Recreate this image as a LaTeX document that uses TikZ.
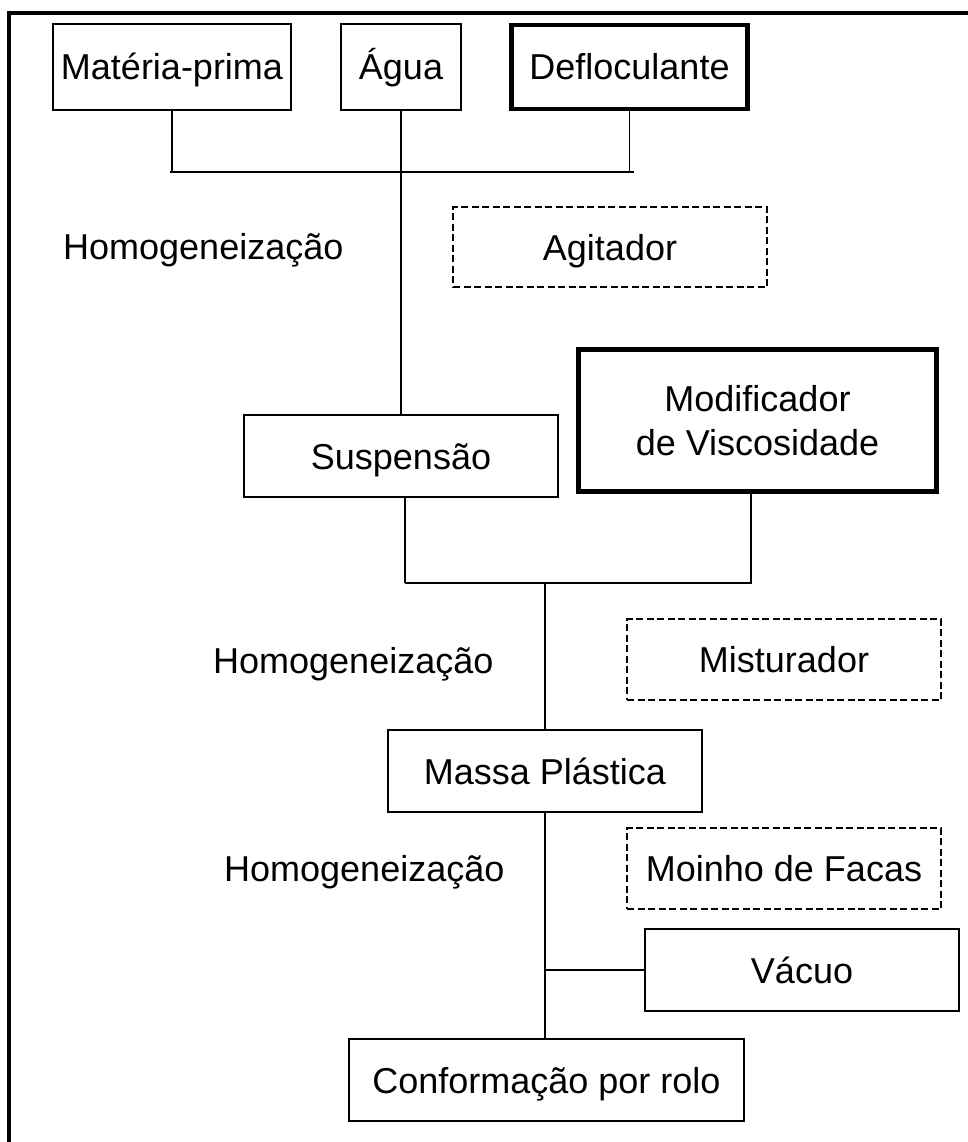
\documentclass[tikz,border=0pt]{standalone}
\usepackage{fontspec}
\setmainfont{Liberation Sans}
\newcommand{\lblfont}{\fontsize{36}{44}\selectfont}
\begin{document}
\begin{tikzpicture}[x=1pt,y=-1pt,
  boxbase/.style={draw, line width=1.6pt, inner sep=0pt, font=\lblfont, align=center},
  box/.style={boxbase, text height=26pt, text depth=0pt},
  thickbox/.style={box, line width=4.5pt},
  dashbox/.style={box, line width=1.6pt, dash pattern=on 7pt off 3.5pt},
  lbl/.style={font=\lblfont, inner sep=0pt, anchor=base west},
  link/.style={line width=1.6pt},
  barline/.style={line width=2.2pt},
]
\useasboundingbox (0,0) rectangle (968,1142);
\clip (0,0) rectangle (968,1142);

% outer frame (left and top edges)
\draw[line width=4pt] (9,1160) |- (980,13);

% raw materials
\node[box, minimum width=238pt, minimum height=86pt] (mp) at (172,67) {Matéria-prima};
\node[box, minimum width=120pt, minimum height=86pt] (ag) at (401,67) {Água};
\node[thickbox, minimum width=236pt, minimum height=84pt] (df) at (629.5,67) {Defloculante};

% first homogenisation
\node[lbl] (h1) at (63,259) {Homogeneização};
\node[dashbox, minimum width=314pt, minimum height=80pt] (agit) at (610,247) {Agitador};

\node[box, minimum width=314pt, minimum height=82pt] (sus) at (401,456) {Suspensão};
\node[boxbase, line width=4.5pt, minimum width=358pt, minimum height=142pt] (mod) at (757.5,420.5) {Modificador\\de Viscosidade};

% second homogenisation
\node[lbl] (h2) at (213,673) {Homogeneização};
\node[dashbox, minimum width=314pt, minimum height=81pt] (mist) at (784,659.5) {Misturador};

\node[box, minimum width=314pt, minimum height=82pt] (massa) at (545,771) {Massa Plástica};

% third homogenisation
\node[lbl] (h3) at (224,881) {Homogeneização};
\node[dashbox, minimum width=314pt, minimum height=81pt] (moinho) at (784,868.5) {Moinho de Facas};

\node[box, minimum width=314pt, minimum height=82pt] (vac) at (802,970) {Vácuo};
\node[box, minimum width=395pt, minimum height=82pt] (conf) at (546.5,1080) {Conformação por rolo};

% junction levels
\coordinate (j1) at (0,172);
\coordinate (j2) at (0,583);
\coordinate (susout) at (405,497);
\coordinate (modout) at (751,493);

% connectors
\draw[link] (mp.south) -- (mp.south |- j1);
\draw[link] (df.south) -- (df.south |- j1);
\draw[barline] ([xshift=-2pt]mp.south |- j1) -- ([xshift=4pt]df.south |- j1);
\draw[link] (ag.south) -- (ag.south |- sus.north);

\draw[link] (susout) -- (susout |- j2);
\draw[link] (modout) -- (modout |- j2);
\draw[barline] (susout |- j2) -- ([xshift=1pt]modout |- j2);
\draw[link] (massa.north |- j2) -- (massa.north);

\draw[link] (massa.south) -- (massa.south |- conf.north);
\draw[link] (vac.west) -- (vac.west -| massa.south);
\end{tikzpicture}
\end{document}
